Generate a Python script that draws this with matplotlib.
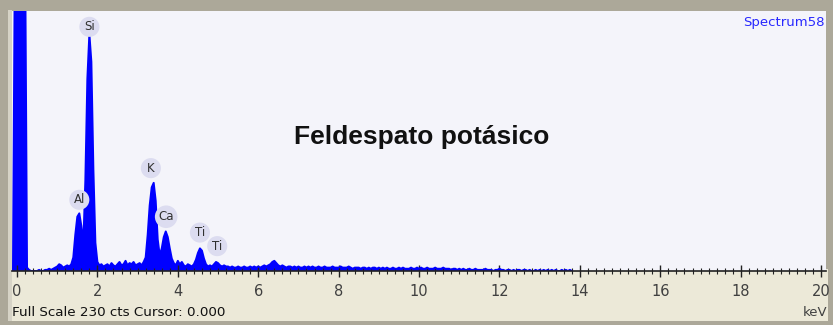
import numpy as np
import matplotlib.pyplot as plt
from matplotlib.patches import Rectangle

# EDS spectrum, 0.05 keV channels starting at -0.10 keV
e_start = -0.10
e_step = 0.05
counts = [
    0, 300,
    300, 300, 300, 300, 300, 3, 1, 0, 0, 0, 0, 1, 0, 0, 1, 1, 2, 1, 2, 3,
    4, 6, 5, 3, 4, 5, 4, 6, 12, 32, 48, 51, 40, 25, 80, 170, 210, 185, 90, 25,
    8, 5, 6, 4, 5, 6, 4, 7, 5, 4, 6, 8, 5, 6, 9, 5, 7, 6, 8, 5,
    6, 7, 5, 8, 12, 32, 58, 74, 78, 62, 28, 14, 20, 30, 35, 30, 20, 11, 7, 5,
    9, 6, 8, 5, 4, 6, 5, 4, 6, 10, 16, 20, 18, 11, 6, 4, 5, 4, 6, 8,
    7, 5, 4, 5, 4, 4, 3, 4, 3, 3, 4, 3, 3, 4, 3, 3, 4, 3, 4, 3,
    4, 3, 4, 5, 4, 5, 6, 8, 9, 7, 5, 4, 5, 4, 3, 4, 4, 3, 4, 3,
    4, 3, 3, 4, 3, 4, 3, 4, 3, 3, 4, 3, 3, 4, 3, 3, 3, 4, 3, 3,
    3, 4, 3, 3, 3, 4, 3, 2, 3, 3, 3, 2, 3, 3, 2, 3, 2, 3, 3, 2,
    3, 2, 3, 2, 3, 2, 2, 3, 2, 2, 3, 2, 3, 2, 2, 2, 3, 2, 2, 3,
    2, 3, 2, 2, 3, 2, 2, 2, 3, 2, 2, 2, 3, 2, 2, 2, 1, 2, 2, 1,
    2, 1, 2, 1, 1, 2, 1, 1, 2, 1, 1, 1, 1, 2, 1, 1, 1, 0, 1, 1,
    2, 1, 1, 0, 1, 1, 0, 1, 0, 1, 1, 0, 1, 1, 0, 1, 0, 0, 1, 0,
    1, 0, 1, 0, 1, 0, 1, 0, 1, 0, 0, 1, 0, 1, 0, 1, 0,
]
energy = e_start + e_step * np.arange(len(counts))

peak_labels = ["Si", "Al", "K", "Ca", "Ti", "Ti"]
peak_x = [1.80, 1.55, 3.33, 3.71, 4.55, 4.98]
peak_y = [216, 63, 91, 48, 34, 22]

W, H = 833, 325
fig = plt.figure(figsize=(W / 100, H / 100), dpi=100)
fig.patch.set_facecolor('#aca899')

# beige panel below plot
fig.patches.append(Rectangle((8 / W, 4 / H), 820 / W, 52 / H, transform=fig.transFigure,
                             facecolor='#ece9d8', edgecolor='none', zorder=-1))
fig.patches.append(Rectangle((8 / W, 4 / H), 4 / W, 311 / H, transform=fig.transFigure,
                             facecolor='#d6d3c6', edgecolor='none', zorder=-1))

ax = fig.add_axes([12 / W, 54 / H, 814 / W, 260 / H])
ax.set_facecolor('#f4f4fa')
ax.fill_between(energy, counts, color='#0000ff', linewidth=0)
ax.plot(energy, counts, color='#0000ff', linewidth=1.4)
ax.set_xlim(-0.124, 20.12)
ax.set_ylim(0, 230)

for lab, x, y in zip(peak_labels, peak_x, peak_y):
    ax.text(x, y, lab, ha='center', va='center', fontsize=8.5, color='#303030',
            bbox=dict(boxstyle='circle,pad=0.3', facecolor='#dcdcf0', edgecolor='none'))

ax.text(0.503, 0.515, "Feldespato potásico", transform=ax.transAxes, ha='center', va='center',
        fontsize=19, fontweight='bold', family='Liberation Sans', color='#111111')
ax.text(0.998, 0.955, "Spectrum58", transform=ax.transAxes, ha='right', va='center',
        fontsize=9.5, color='#2828ff')

for s in ['top', 'right', 'left']:
    ax.spines[s].set_visible(False)
ax.spines['bottom'].set_color('#222222')
ax.spines['bottom'].set_linewidth(1.2)
ax.set_yticks([])
ax.set_xticks(np.arange(0, 21, 2))
ax.set_xticks(np.arange(0, 20.1, 0.2), minor=True)
ax.tick_params(axis='x', which='major', direction='inout', length=8, width=1, color='#222222',
               labelsize=10.5, labelcolor='#404040', pad=5)
ax.tick_params(axis='x', which='minor', direction='inout', length=5, width=0.8, color='#222222')

fig.text(12 / W, 1 - 313 / H, "Full Scale 230 cts Cursor: 0.000", ha='left', va='center',
         fontsize=9.7, color='#111111')
fig.text(827 / W, 1 - 313 / H, "keV", ha='right', va='center', fontsize=9.5, color='#404040')

fig.savefig('out.png', dpi=100, facecolor=fig.get_facecolor())
